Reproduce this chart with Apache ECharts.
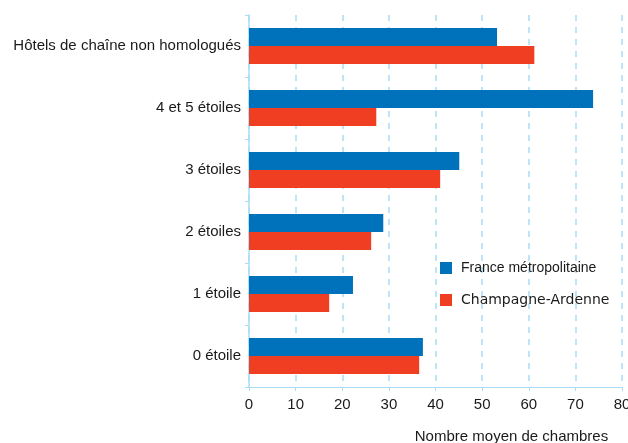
<!DOCTYPE html>
<html><head><meta charset="utf-8">
<script src="https://cdn.jsdelivr.net/npm/echarts@6/dist/echarts.min.js"></script>
<style>html,body{margin:0;padding:0;background:#fff}#c{width:628px;height:443px}</style>
</head><body><div id="c"></div>
<script>
const categories = ["Hôtels de chaîne non homologués", "4 et 5 étoiles", "3 étoiles", "2 étoiles", "1 étoile", "0 étoile"];
const france = [53.2, 73.8, 45.1, 28.8, 22.3, 37.3];
const champagne = [61.2, 27.3, 41.0, 26.2, 17.2, 36.5];
const seriesNames = ["France métropolitaine", "Champagne-Ardenne"];
const xTicks = { min: 0, max: 80, interval: 10 };

const lineColor = '#a9dbf5';
const txt = '#1a1a1a';
const chart = echarts.init(document.getElementById('c'));
chart.setOption({
  animation: false,
  grid: { left: 249, right: 6, top: 15, bottom: 56, outerBoundsMode: 'none', containLabel: false },
  legend: {
    orient: 'vertical', left: 435, top: 256, itemWidth: 12, itemHeight: 12, itemGap: 18,
    icon: 'rect',
    textStyle: { fontFamily: 'Liberation Sans', fontSize: 14, color: txt, padding: [0, 0, 0, 4],
      rich: { w: { fontFamily: 'DejaVu Sans', fontSize: 14, color: txt } } },
    formatter: function (n) { return n === seriesNames[1] ? '{w|' + n + '}' : n; },
    data: seriesNames
  },
  xAxis: {
    type: 'value', min: xTicks.min, max: xTicks.max, interval: xTicks.interval,
    axisLine: { show: true, lineStyle: { color: lineColor, width: 1 } },
    axisTick: { show: true, length: 4, lineStyle: { color: lineColor } },
    splitLine: { show: true, lineStyle: { color: lineColor, type: [6, 6], width: 1.5 } },
    axisLabel: { fontFamily: 'Liberation Sans', fontSize: 15, color: txt, margin: 10 },
    name: 'Nombre moyen de chambres', nameLocation: 'middle', nameGap: 42,
    nameTextStyle: { fontFamily: 'Liberation Sans', fontSize: 15, color: txt, padding: [0, 0, 0, 152] }
  },
  yAxis: {
    type: 'category', inverse: true, data: categories,
    axisLine: { show: true, lineStyle: { color: lineColor, width: 1.5 } },
    axisTick: { show: true, length: 4, lineStyle: { color: lineColor } },
    axisLabel: { fontFamily: 'Liberation Sans', fontSize: 15, color: txt, margin: 8 }
  },
  series: [
    { name: seriesNames[0], type: 'bar', data: france, itemStyle: { color: '#0072bb' }, barGap: '0%', barCategoryGap: '42%' },
    { name: seriesNames[1], type: 'bar', data: champagne, itemStyle: { color: '#f03e23' }, barGap: '0%', barCategoryGap: '42%' }
  ]
});
</script></body></html>
